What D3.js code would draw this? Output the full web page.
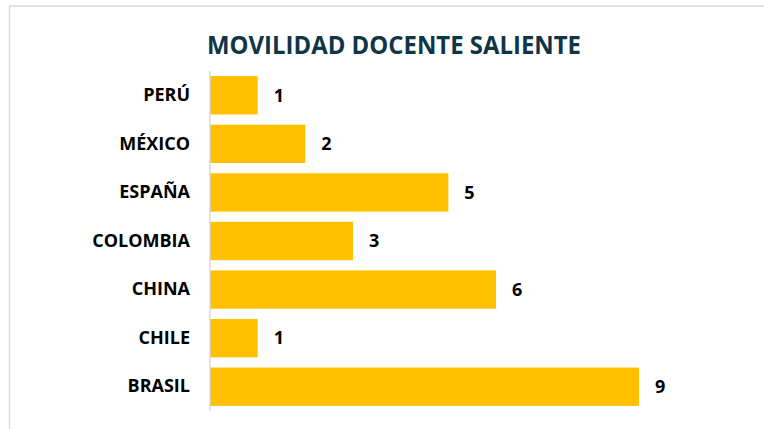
<!DOCTYPE html>
<html>
<head>
<meta charset="utf-8">
<script src="https://cdn.jsdelivr.net/npm/d3@7"></script>
<style>
  html, body { margin: 0; padding: 0; background: #fff; }
  svg { display: block; }
</style>
</head>
<body>
<svg id="chart" width="764" height="429"></svg>
<script>
// Outgoing teaching staff mobility, by destination country
const countries = ["PERÚ", "MÉXICO", "ESPAÑA", "COLOMBIA", "CHINA", "CHILE", "BRASIL"];
const counts = [1, 2, 5, 3, 6, 1, 9];
const titleText = "MOVILIDAD DOCENTE SALIENTE";

const data = countries.map((c, i) => ({ country: c, value: counts[i] }));

const svg = d3.select("#chart");
const font = "'Open Sans', 'Noto Sans', sans-serif";

// Chart frame (top and left edges)
svg.append("line")
  .attr("x1", 9).attr("x2", 764).attr("y1", 6).attr("y2", 6)
  .attr("stroke", "#d9d9d9").attr("stroke-width", 1.5);
svg.append("line")
  .attr("x1", 9.5).attr("x2", 9.5).attr("y1", 6).attr("y2", 429)
  .attr("stroke", "#d9d9d9").attr("stroke-width", 1.5);

// Title
svg.append("text")
  .attr("x", 394).attr("y", 54)
  .attr("text-anchor", "middle")
  .attr("font-family", font)
  .attr("font-weight", 700)
  .attr("font-size", 25)
  .attr("fill", "#0f3549")
  .attr("textLength", 374)
  .attr("lengthAdjust", "spacingAndGlyphs")
  .text(titleText);

const x = d3.scaleLinear().domain([0, 10]).range([210, 686.7]);
const y = d3.scaleBand().domain(countries).range([71, 411]).paddingInner(0.21).paddingOuter(0.105);

// Bars
svg.append("g").selectAll("rect")
  .data(data)
  .join("rect")
  .attr("x", x(0))
  .attr("y", d => y(d.country))
  .attr("width", d => x(d.value) - x(0))
  .attr("height", y.bandwidth())
  .attr("fill", "#ffc000");

// Category axis
const yAxis = svg.append("g")
  .attr("transform", `translate(${x(0)},0)`)
  .call(d3.axisLeft(y).tickSize(0).tickPadding(20));
yAxis.select(".domain")
  .attr("d", `M0,${y.range()[0]}V${y.range()[1]}`)
  .attr("stroke", "#d9d9d9").attr("stroke-width", 1.5);
yAxis.selectAll("text")
  .attr("font-family", font)
  .attr("font-weight", 700)
  .attr("font-size", 18)
  .attr("fill", "#000");

// Value labels
svg.append("g").selectAll("text")
  .data(data)
  .join("text")
  .attr("x", d => x(d.value) + 16)
  .attr("y", d => y(d.country) + y.bandwidth() / 2)
  .attr("dy", "0.35em")
  .attr("font-family", font)
  .attr("font-weight", 700)
  .attr("font-size", 18)
  .attr("fill", "#000")
  .text(d => d.value);
</script>
</body>
</html>
